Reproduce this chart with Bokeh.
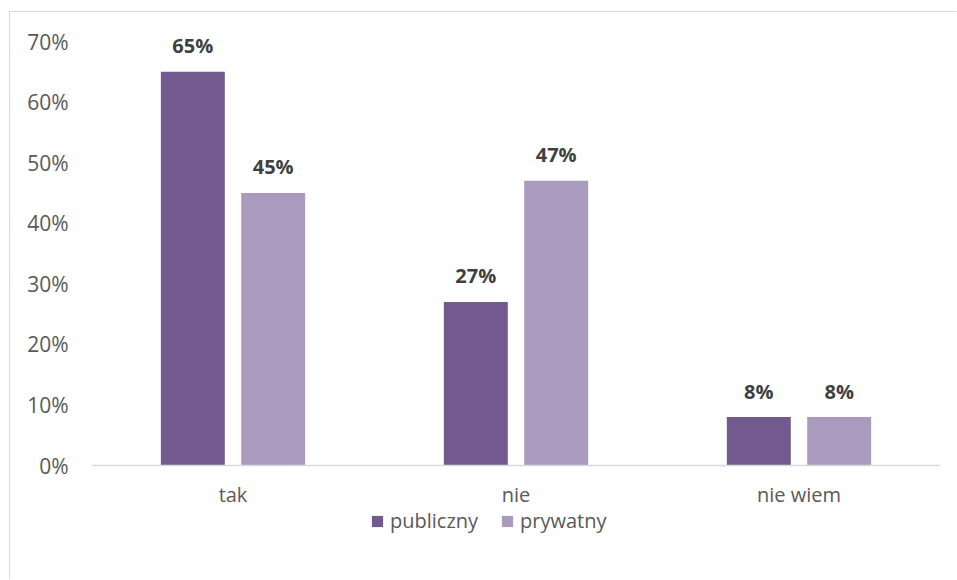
from bokeh.plotting import figure
from bokeh.models import (ColumnDataSource, FactorRange, FixedTicker, PrintfTickFormatter,
                          Legend, LegendItem, Span)
from bokeh.transform import dodge
from bokeh.core.properties import value
from bokeh.embed import file_html
from bokeh.resources import INLINE

categories = ["tak", "nie", "nie wiem"]
series_names = ["publiczny", "prywatny"]
publiczny = [65, 27, 8]
prywatny = [45, 47, 8]
y_ticks = [0, 10, 20, 30, 40, 50, 60, 70]

colors = ["#725A8F", "#A99ABE"]
FONT = "Open Sans"
FS = "20px"
PX_PER_UNIT = 424 / 70          # 70 units over 424 px
BELOW_PX = 110                  # room under the baseline for category labels and legend
ABOVE_PX = 25                   # room above the 70% line so the top data label is not clipped

src = ColumnDataSource(dict(
    cat=categories,
    publiczny=publiczny,
    prywatny=prywatny,
    zero=[0] * len(categories),
    lab_pub=[f"{v}%" for v in publiczny],
    lab_pry=[f"{v}%" for v in prywatny],
))

p = figure(width=947, height=568, x_range=FactorRange(*categories, range_padding=0),
           y_range=(-BELOW_PX / PX_PER_UNIT, 70 + ABOVE_PX / PX_PER_UNIT),
           output_backend="svg", toolbar_location=None,
           min_border_left=81, min_border_right=17, min_border_top=29 - ABOVE_PX,
           min_border_bottom=5,
           background_fill_color="white", border_fill_color="white", outline_line_color=None)
p.styles = {"margin-left": "9px", "margin-top": "11px",
            "border-left": "1px solid #D9D9D9", "border-top": "1px solid #D9D9D9"}

r1 = p.vbar(x=dodge("cat", -0.142, range=p.x_range), top="publiczny", width=0.226,
            source=src, fill_color=colors[0], line_color=None)
r2 = p.vbar(x=dodge("cat", 0.142, range=p.x_range), top="prywatny", width=0.226,
            source=src, fill_color=colors[1], line_color=None)

p.add_layout(Span(location=0, dimension="width", line_color="#D9D9D9", line_width=1.5))

p.text(x=dodge("cat", -0.142, range=p.x_range), y="publiczny", text="lab_pub", source=src,
       text_align="center", text_baseline="alphabetic", y_offset=-26,
       text_font=value(FONT), text_font_size=FS, text_font_style="bold", text_color="#404040")
p.text(x=dodge("cat", 0.142, range=p.x_range), y="prywatny", text="lab_pry", source=src,
       text_align="center", text_baseline="alphabetic", y_offset=-26,
       text_font=value(FONT), text_font_size=FS, text_font_style="bold", text_color="#404040")

# category labels under the baseline
p.text(x="cat", y="zero", text="cat", source=src, text_align="center", text_baseline="middle",
       y_offset=29, text_font=value(FONT), text_font_size=FS, text_color="#595959")

p.xgrid.visible = False
p.ygrid.visible = False
p.xaxis.visible = False

p.yaxis.ticker = FixedTicker(ticks=y_ticks)
p.yaxis.formatter = PrintfTickFormatter(format="%d%%")
p.yaxis.axis_line_color = None
p.yaxis.major_tick_line_color = None
p.yaxis.minor_tick_line_color = None
p.yaxis.major_tick_out = 0
p.yaxis.major_label_standoff = 23
p.yaxis.major_label_text_font = FONT
p.yaxis.major_label_text_font_size = "21px"
p.yaxis.major_label_text_color = "#595959"

legend = Legend(items=[LegendItem(label=series_names[0], renderers=[r1]),
                       LegendItem(label=series_names[1], renderers=[r2])],
                orientation="horizontal", location=(279, 41),
                label_text_font=FONT, label_text_font_size=FS, label_text_color="#595959",
                glyph_width=14, glyph_height=14, spacing=22, label_standoff=6, label_height=20,
                border_line_color=None, background_fill_alpha=0, margin=0, padding=0)
p.add_layout(legend, "center")

open("out.html", "w").write(file_html(p, INLINE))
